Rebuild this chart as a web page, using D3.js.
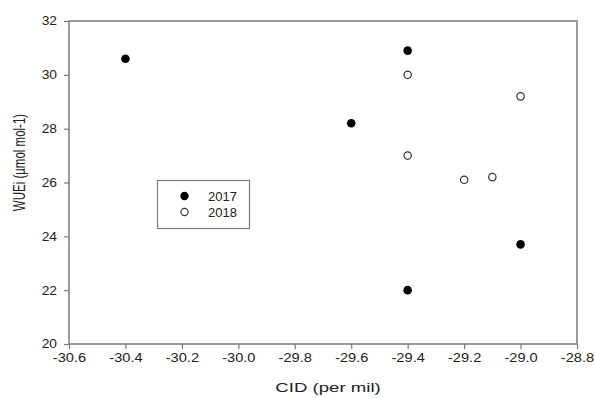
<!DOCTYPE html>
<html>
<head>
  <script src="https://d3js.org/d3.v7.min.js"></script>
  <style>
    body { margin: 0; background: #fff; }
    text { font-family: Arial, "Liberation Sans", sans-serif; fill: #222; }
  </style>
</head>
<body>
<svg id="chart"></svg>
<script>
  // data
  var cid2017 = [-30.4, -29.6, -29.4, -29.4, -29.0];
  var wue2017 = [30.6, 28.2, 30.9, 22.0, 23.7];
  var cid2018 = [-29.4, -29.4, -29.2, -29.1, -29.0];
  var wue2018 = [30.0, 27.0, 26.1, 26.2, 29.2];
  var xTicks = [-30.6, -30.4, -30.2, -30.0, -29.8, -29.6, -29.4, -29.2, -29.0, -28.8];
  var yTicks = [20, 22, 24, 26, 28, 30, 32];
  var years = ["2017", "2018"];

  var width = 595, height = 398;
  var margin = {left: 69, top: 21, right: 18, bottom: 54};
  var axisColor = "#7a7a7a";

  var svg = d3.select("#chart").attr("width", width).attr("height", height);

  var x = d3.scaleLinear().domain([-30.6, -28.8]).range([margin.left, width - margin.right]);
  var y = d3.scaleLinear().domain([20, 32]).range([height - margin.bottom, margin.top]);

  // frame
  svg.append("rect")
    .attr("x", x(-30.6)).attr("y", y(32))
    .attr("width", x(-28.8) - x(-30.6)).attr("height", y(20) - y(32))
    .attr("fill", "none").attr("stroke", axisColor).attr("stroke-width", 1.5);

  var xAxis = svg.append("g")
    .attr("transform", "translate(0," + y(20) + ")")
    .call(d3.axisBottom(x).tickValues(xTicks).tickSize(5).tickPadding(4));
  var yAxis = svg.append("g")
    .attr("transform", "translate(" + x(-30.6) + ",0)")
    .call(d3.axisLeft(y).tickValues(yTicks).tickSize(5).tickFormat(d3.format("d")));

  [xAxis, yAxis].forEach(function(a) {
    a.select(".domain").remove();
    a.selectAll("line").attr("stroke", axisColor).attr("stroke-width", 1.2);
    a.selectAll("text").style("font-size", "12px").style("font-family", "Arial, 'Liberation Sans', sans-serif").attr("fill", "#222");
  });
  // the original picture is a bit stretched sideways, so widen the labels
  xAxis.selectAll("text")
    .text(d => d.toFixed(1))
    .attr("transform", "scale(1.22,1)");
  yAxis.selectAll("text")
    .attr("x", 0)
    .attr("transform", "translate(-12,0) scale(1.15,1)");

  svg.append("text")
    .attr("transform", "translate(328,391.5) scale(1.38,1)")
    .attr("text-anchor", "middle")
    .style("font-size", "13.5px")
    .text("CID (per mil)");

  svg.append("text")
    .attr("transform", "translate(19,162.5) scale(1.4,1) rotate(-90)")
    .attr("text-anchor", "middle")
    .attr("dy", "0.35em")
    .style("font-size", "11.5px")
    .text("WUEi (\u00b5mol mol-1)");

  var pts2017 = cid2017.map(function(c, i) { return {x: c, y: wue2017[i]}; });
  var pts2018 = cid2018.map(function(c, i) { return {x: c, y: wue2018[i]}; });

  svg.selectAll(".p2017")
    .data(pts2017).enter()
    .append("circle")
    .attr("class", "p2017")
    .attr("cx", d => x(d.x)).attr("cy", d => y(d.y))
    .attr("r", 4.3)
    .attr("fill", "#000");

  svg.selectAll(".p2018")
    .data(pts2018).enter()
    .append("circle")
    .attr("class", "p2018")
    .attr("cx", d => x(d.x)).attr("cy", d => y(d.y))
    .attr("r", 3.7)
    .attr("fill", "#fff")
    .attr("stroke", "#333")
    .attr("stroke-width", 1.2);

  // legend
  var legend = svg.append("g");
  legend.append("rect")
    .attr("x", 157.5).attr("y", 180.5)
    .attr("width", 92).attr("height", 48)
    .attr("fill", "#fff").attr("stroke", axisColor).attr("stroke-width", 1.2);

  years.forEach(function(yr, i) {
    var cy = 196 + i * 16;
    if (i == 0) {
      legend.append("circle").attr("cx", 184.5).attr("cy", cy).attr("r", 4.2).attr("fill", "#000");
    } else {
      legend.append("circle").attr("cx", 184.5).attr("cy", cy).attr("r", 3.6)
        .attr("fill", "#fff").attr("stroke", "#333").attr("stroke-width", 1.1);
    }
    legend.append("text")
      .attr("x", 208).attr("y", cy + 4.8)
      .style("font-size", "13px")
      .text(yr);
  });
</script>
</body>
</html>
